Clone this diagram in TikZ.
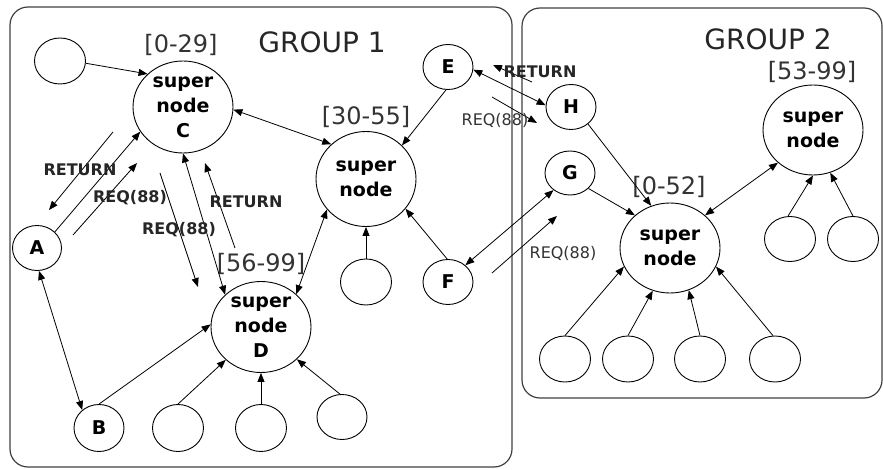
\documentclass[tikz,border=0pt]{standalone}
\usepackage{fontspec}
\setmainfont{DejaVu Sans}
\usetikzlibrary{shapes.geometric,arrows.meta}
\begin{document}
\begin{tikzpicture}[x=1pt,y=-1pt,
  circ/.style={ellipse,draw,line width=0.9pt,inner sep=0pt,minimum width=51pt,minimum height=46pt,
    font=\fontsize{19}{25}\selectfont\bfseries,align=center},
  sn/.style={circ,minimum width=100pt,minimum height=92pt},
  con/.style={line width=0.8pt},
  tip/.style={con,-{Triangle[length=9pt,width=7pt]}},
  both/.style={con,{Triangle[length=9pt,width=7pt]}-{Triangle[length=9pt,width=7pt]}},
  grp/.style={draw=black!75,line width=1.2pt,rounded corners=18pt},
  gtitle/.style={font=\fontsize{28}{28}\selectfont,text=black!85},
  rnglabel/.style={font=\fontsize{24}{24}\selectfont,text=black!80},
  msgb/.style={font=\fontsize{16}{16}\selectfont\bfseries,text=black!85},
  msgr/.style={font=\fontsize{16}{16}\selectfont,text=black!80}
]
\useasboundingbox (0,0) rectangle (883,470);
% groups
\draw[grp] (10,7) rectangle (512,467);
\draw[grp] (522,8) rectangle (882,398);
\node[gtitle] (g1) at (322,42) {GROUP 1};
\node[gtitle] (g2) at (768,39) {GROUP 2};
% group 1 nodes
\node[circ] (e0) at (60,61) {};
\node[sn] (C) at (183,107) {super\\node\\C};
\node[rnglabel] (rC) at (181,45) {[0-29]};
\node[sn,minimum height=95pt] (S30) at (366,179) {super\\node};
\node[rnglabel] (r30) at (366,117) {[30-55]};
\node[circ,minimum width=50pt,minimum height=45pt] (E) at (448,67) {E};
\node[circ] (e1) at (366,282) {};
\node[circ,minimum width=50pt,minimum height=45pt] (F) at (448,282) {F};
\node[circ,minimum width=49pt,minimum height=45pt] (A) at (37,248) {A};
\node[circ,minimum width=50pt,minimum height=47pt] (B) at (99,428) {B};
\node[sn,minimum height=91pt] (D) at (261,327) {super\\node\\D};
\node[rnglabel] (rD) at (261,264) {[56-99]};
\node[circ,minimum height=47pt] (d1) at (178,428) {};
\node[circ,minimum height=47pt] (d2) at (261,428) {};
\node[circ,minimum width=50pt,minimum height=45pt] (d3) at (342,417) {};
% group 2 nodes
\node[circ,minimum width=50pt,minimum height=45pt] (H) at (571,107) {H};
\node[circ,minimum width=50pt,minimum height=44pt] (G) at (570,173) {G};
\node[sn,minimum height=90pt] (S0) at (670,248) {super\\node};
\node[rnglabel] (r0) at (669,187) {[0-52]};
\node[sn,minimum height=90pt] (S53) at (813,130) {super\\node};
\node[rnglabel] (r53) at (812,72) {[53-99]};
\node[circ] (f1) at (565,359) {};
\node[circ] (f2) at (628,359) {};
\node[circ] (f3) at (700,359) {};
\node[circ] (f4) at (775,359) {};
\node[circ,minimum height=45pt] (h1) at (790,239) {};
\node[circ,minimum height=45pt] (h2) at (853,239) {};
% connectors group 1
\draw[tip] (e0.-5) -- (C.137);
\draw[both] (C.-3) -- (S30.135);
\draw[tip] (E.265) -- (S30.43);
\draw[tip] (e1.90) -- (S30.-90);
\draw[tip] (F.92) -- (S30.-37);
\draw[both] (S30.218) -- (D.43);
\draw[both] (C.-90) -- (D.138);
\draw[tip] (A.42) -- (C.210);
\draw[both] (A.-85) -- (B.133);
\draw[tip] (B.90) -- (D.177);
\draw[tip] (d1.90) -- (D.223);
\draw[tip] (d2.90) -- (D.-90);
\draw[tip] (d3.95) -- (D.-42);
% message arrows group 1
\coordinate (m1a) at (113,132); \coordinate (m1b) at (49,210);
\coordinate (m2a) at (73,235);  \coordinate (m2b) at (137,163);
\coordinate (m3a) at (160,173); \coordinate (m3b) at (198,287);
\coordinate (m4a) at (235,248); \coordinate (m4b) at (205,163);
\draw[tip] (m1a) -- (m1b);
\draw[tip] (m2a) -- (m2b);
\draw[tip] (m3a) -- (m3b);
\draw[tip] (m4a) -- (m4b);
\node[msgb] (l1) at (80,170) {RETURN};
\node[msgb] (l2) at (130,198) {REQ(88)};
\node[msgb] (l3) at (179,230) {REQ(88)};
\node[msgb] (l4) at (246,202) {RETURN};
% across groups
\draw[both] (E.-6) -- (H.176);
\coordinate (m5a) at (532,82);  \coordinate (m5b) at (493,65);
\coordinate (m6a) at (492,97);  \coordinate (m6b) at (537,123);
\draw[tip] (m5a) -- (m5b);
\draw[tip] (m6a) -- (m6b);
\node[msgb] (l5) at (540,72) {RETURN};
\node[msgr] (l6) at (495,120) {REQ(88)};
\draw[both] (F.44) -- (G.226);
\coordinate (m7a) at (492,273); \coordinate (m7b) at (557,216);
\draw[tip] (m7a) -- (m7b);
\node[msgr] (l7) at (563,253) {REQ(88)};
% connectors group 2
\draw[tip] (H.-45) -- (S0.114);
\draw[tip] (G.-40) -- (S0.137);
\draw[both] (S0.43) -- (S53.223);
\draw[tip] (f1.90) -- (S0.202);
\draw[tip] (f2.90) -- (S0.248);
\draw[tip] (f3.90) -- (S0.-66);
\draw[tip] (f4.95) -- (S0.-22);
\draw[tip] (h1.95) -- (S53.-90);
\draw[tip] (h2.90) -- (S53.-68);
\end{tikzpicture}
\end{document}
